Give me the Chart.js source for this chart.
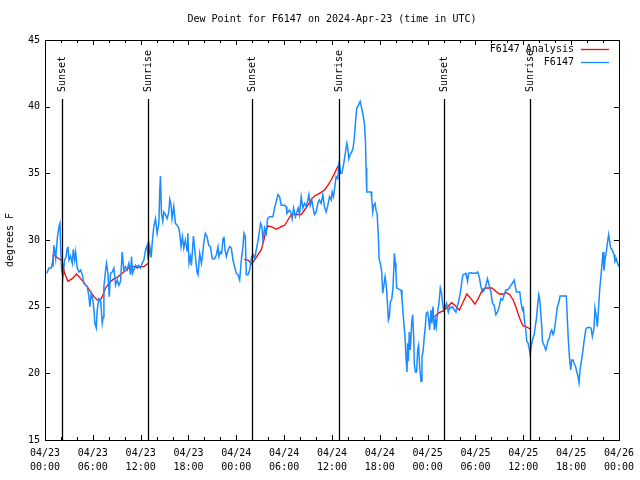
<!DOCTYPE html>
<html><head><meta charset="utf-8">
<script src="https://cdn.jsdelivr.net/npm/chart.js@4/dist/chart.umd.min.js"></script>
<style>html,body{margin:0;padding:0;background:#fff}canvas{display:block}</style>
</head><body>
<canvas id="c" width="640" height="480"></canvas>
<script>
const FONT = '"DejaVu Sans Mono", "Liberation Mono", monospace';
const chartTitle = 'Dew Point for F6147 on 2024-Apr-23 (time in UTC)';
const yAxisTitle = 'degrees F';
const seriesLabels = ['F6147 Analysis', 'F6147'];

// hours since 04/23 00:00 UTC
const obsHours = [0.21,0.50,0.79,1.00,1.13,1.34,1.54,1.75,1.88,1.96,2.09,2.25,2.46,2.63,2.80,2.88,3.01,3.21,3.42,3.55,3.72,3.84,4.05,4.26,4.47,4.67,4.88,5.09,5.30,5.51,5.63,5.80,6.01,6.14,6.26,6.43,6.55,6.76,6.97,7.18,7.30,7.39,7.60,7.72,7.89,8.06,8.22,8.43,8.64,8.85,9.06,9.27,9.48,9.68,9.89,10.10,10.31,10.52,10.73,10.85,10.98,11.14,11.35,11.56,11.77,11.98,12.19,12.40,12.61,12.81,12.94,13.15,13.31,13.48,13.65,13.86,14.07,14.28,14.40,14.48,14.61,14.78,14.90,15.11,15.32,15.53,15.65,15.82,15.94,16.15,16.36,16.57,16.78,16.90,17.07,17.24,17.41,17.61,17.82,17.91,18.07,18.24,18.37,18.62,18.87,19.07,19.20,19.41,19.62,19.74,19.91,20.12,20.33,20.54,20.75,20.87,20.99,21.29,21.50,21.70,21.83,22.00,22.16,22.33,22.45,22.58,22.75,22.96,23.17,23.37,23.58,23.79,24.00,24.21,24.42,24.63,24.83,24.96,25.13,25.25,25.46,25.67,25.80,25.92,26.09,26.30,26.50,26.71,26.92,27.05,27.21,27.34,27.55,27.76,27.92,28.17,28.59,28.80,29.01,29.22,29.43,29.63,30.05,30.26,30.34,30.68,30.89,31.01,31.18,31.43,31.60,31.76,31.93,32.14,32.34,32.56,32.77,32.97,33.10,33.27,33.47,33.68,33.81,34.02,34.22,34.43,34.64,34.85,35.06,35.27,35.48,35.69,35.90,36.02,36.19,36.36,36.52,36.73,36.90,37.07,37.23,37.44,37.57,37.73,37.86,37.98,38.11,38.28,38.48,38.65,38.82,38.94,39.11,39.32,39.53,39.65,39.86,40.07,40.20,40.28,40.36,40.70,40.90,40.99,41.11,41.24,41.41,41.53,41.66,41.82,41.91,42.07,42.24,42.36,42.49,42.66,42.78,42.91,43.08,43.20,43.33,43.49,43.66,43.83,43.95,44.03,44.12,44.45,44.66,44.78,44.95,45.16,45.28,45.41,45.49,45.58,45.70,45.83,46.00,46.12,46.25,46.33,46.45,46.62,46.75,46.87,47.00,47.17,47.29,47.42,47.58,47.71,47.83,48.00,48.12,48.25,48.42,48.54,48.67,48.84,48.96,49.09,49.25,49.42,49.59,49.75,49.88,50.00,50.21,50.38,50.59,50.76,50.92,51.13,51.34,51.55,51.68,51.84,52.09,52.26,52.43,52.81,53.01,53.14,53.43,53.77,54.06,54.27,54.47,54.68,54.89,55.10,55.31,55.51,55.72,55.93,56.14,56.35,56.56,56.77,56.98,57.18,57.39,57.60,57.81,58.02,58.23,58.43,58.64,58.85,58.98,59.14,59.56,59.69,59.89,60.02,60.14,60.31,60.44,60.61,60.73,60.86,60.98,61.15,61.36,61.48,61.65,61.82,61.94,62.07,62.19,62.32,62.40,62.61,62.82,62.94,63.07,63.24,63.44,63.57,63.74,63.86,64.07,64.28,64.49,64.61,65.40,65.53,65.65,65.82,65.95,66.07,66.24,66.37,66.57,66.70,66.82,66.99,67.12,67.24,67.41,67.62,67.83,67.95,68.24,68.49,68.66,68.87,68.99,69.16,69.29,69.41,69.58,69.79,70.00,70.12,70.25,70.41,70.58,70.71,70.83,70.96,71.17,71.38,71.50,71.66,71.83,72.00];
const obsValues = [27.5,27.9,27.9,28.5,29.6,28.6,30.1,31.0,31.25,29.5,27.75,27.25,28.5,28.7,29.4,29.5,28.5,28.8,28.25,29.3,28.5,29.1,27.9,27.6,27.75,27.4,26.75,26.6,26.5,25.75,25.0,26.0,25.5,24.75,23.75,23.4,24.75,25.6,25.5,23.75,24.2,26.5,27.75,28.25,27.5,25.75,27.5,27.6,27.9,26.6,27.0,26.6,26.9,29.1,27.75,28.0,27.75,28.25,27.4,28.75,27.5,27.75,28.1,28.0,28.1,27.9,28.25,28.5,29.25,29.6,28.5,29.5,28.7,30.0,31.0,31.6,30.5,31.25,33.75,34.8,32.0,31.4,32.1,31.9,31.6,32.1,33.05,32.6,31.6,32.5,31.25,31.1,30.9,30.5,29.5,30.25,29.4,30.0,29.2,30.5,28.25,28.75,28.1,30.3,28.75,27.6,27.4,29.0,28.25,28.75,29.75,30.5,30.25,29.6,29.5,29.0,28.6,28.6,28.9,29.5,28.75,29.1,29.0,30.1,30.25,29.25,28.75,29.25,29.5,29.4,28.5,28.0,27.5,27.4,27.0,28.5,29.5,30.5,30.25,27.4,27.4,27.75,28.25,28.75,28.9,28.6,29.25,29.9,30.75,31.25,31.0,30.0,30.9,30.5,31.6,31.75,31.75,32.4,32.9,33.4,33.25,32.6,32.6,32.5,32.0,32.25,32.0,31.6,32.4,31.75,32.1,32.4,31.9,33.25,32.4,32.75,32.5,33.0,33.4,32.6,33.0,32.25,31.9,32.1,32.75,33.0,32.75,33.4,32.5,32.1,32.6,33.25,33.0,33.6,33.25,34.0,34.75,34.6,35.9,35.0,35.0,35.6,36.1,36.75,37.25,36.9,36.1,36.4,36.6,36.9,37.75,38.75,39.9,40.1,40.4,40.1,39.5,38.75,37.4,35.4,33.6,33.6,33.6,33.1,32.1,32.6,32.75,32.2,32.0,30.25,28.6,28.25,27.6,26.0,26.5,27.25,26.75,25.75,24.0,24.25,25.4,25.5,26.5,29.0,28.25,27.5,26.4,26.3,26.25,25.6,24.25,22.75,21.25,20.1,22.25,20.9,23.1,21.75,23.75,24.4,22.75,20.75,20.1,20.1,21.75,22.1,20.5,19.4,21.25,21.6,22.75,23.5,24.5,24.6,24.1,23.25,24.75,23.75,25.0,23.25,24.0,23.5,24.6,25.25,26.4,26.0,25.25,24.75,25.0,25.25,24.6,25.0,24.9,25.0,24.75,24.6,25.0,25.25,26.0,26.75,27.4,27.5,26.9,27.5,27.55,27.5,27.5,27.6,27.25,26.5,26.1,26.25,26.6,27.1,26.6,26.1,25.25,25.1,24.4,24.6,25.0,25.6,25.5,25.9,26.25,26.25,26.4,26.6,26.75,27.0,26.6,26.1,26.1,25.4,24.75,24.9,24.0,23.25,22.4,22.25,21.9,21.4,22.0,22.5,22.9,23.4,24.1,25.25,25.9,25.5,24.5,23.5,22.4,22.1,21.75,22.0,22.4,22.6,23.1,23.25,22.9,23.1,24.0,25.0,25.4,25.8,25.8,24.0,22.5,21.0,20.25,21.0,21.0,20.75,20.5,20.1,19.9,19.3,20.25,20.75,21.4,22.4,23.25,23.4,23.45,23.4,22.75,23.4,24.9,24.25,23.5,24.6,26.25,27.6,29.1,27.7,28.5,29.1,29.9,30.4,29.9,29.4,29.25,28.9,28.4,28.6,28.25,28.0];

// analysis (null = gap between nightly segments)
const anaHours = [1.00,1.05,1.75,2.17,2.46,2.88,3.42,3.96,4.47,4.88,5.30,5.72,6.14,6.55,6.89,7.18,7.60,8.01,8.64,9.06,9.68,10.31,10.93,11.56,11.98,12.40,12.81,13.02,18.00,24.96,25.46,25.92,26.30,26.71,27.13,27.42,27.67,27.97,28.38,29.01,29.63,30.05,30.47,30.89,31.51,32.14,32.56,32.97,33.39,33.81,34.43,35.06,35.48,35.90,36.32,36.73,36.94,42.00,48.84,49.46,50.00,50.50,51.00,51.42,51.97,52.38,52.92,53.43,53.93,54.35,54.89,55.31,56.06,56.48,56.98,57.48,57.89,58.31,58.73,59.06,59.39,59.69,59.98,60.31,60.64,60.98];
const anaValues = [28.0,28.9,28.6,28.4,27.5,26.9,27.1,27.45,27.1,26.8,26.5,26.1,25.75,25.5,25.45,25.75,26.4,26.75,27.1,27.2,27.5,27.8,28.05,27.9,28.0,28.0,28.2,28.25,null,28.55,28.5,28.2,28.5,28.9,29.25,29.9,30.6,31.05,31.0,30.8,31.0,31.1,31.5,31.9,31.9,31.9,32.25,32.6,33.05,33.3,33.5,33.75,34.1,34.5,35.0,35.5,35.7,null,24.25,24.55,24.7,25.0,25.3,25.1,24.75,25.25,25.95,25.6,25.2,25.6,26.3,26.4,26.4,26.2,25.95,25.95,26.05,25.9,25.5,25.0,24.4,23.9,23.55,23.5,23.4,23.3];

const eventHours = [2.09, 12.94, 25.92, 36.90, 50.00, 60.86];
const eventLabels = ['Sunset', 'Sunrise', 'Sunset', 'Sunrise', 'Sunset', 'Sunrise'];

const xTickHours = [0,6,12,18,24,30,36,42,48,54,60,66,72];
const xTickDates = ['04/23','04/23','04/23','04/23','04/24','04/24','04/24','04/24','04/25','04/25','04/25','04/25','04/26'];
const xTickTimes = ['00:00','06:00','12:00','18:00','00:00','06:00','12:00','18:00','00:00','06:00','12:00','18:00','00:00'];
const yTickValues = [15,20,25,30,35,40,45];

const RED = '#ff0000';
const BLUE = '#1a8cff';

const obsData = obsHours.map((h, i) => ({x: h, y: obsValues[i]}));
const anaData = anaHours.map((h, i) => ({x: h, y: anaValues[i]}));

const decor = {
  id: 'decor',
  afterDraw(chart) {
    const {ctx, chartArea: a, scales: {x, y}} = chart;
    ctx.save();
    ctx.strokeStyle = '#000';
    ctx.fillStyle = '#000';
    ctx.lineWidth = 1;
    // sunrise/sunset lines
    eventHours.forEach((h, i) => {
      const px = Math.round(x.getPixelForValue(h)) + 0.5;
      ctx.lineWidth = 1.3;
      ctx.beginPath();
      ctx.moveTo(px, a.top + 59);
      ctx.lineTo(px, a.bottom);
      ctx.stroke();
      ctx.save();
      ctx.translate(px, a.top + 52);
      ctx.rotate(-Math.PI / 2);
      ctx.font = '10px ' + FONT;
      ctx.textAlign = 'left';
      ctx.textBaseline = 'middle';
      ctx.fillText(eventLabels[i], 0, 0);
      ctx.restore();
    });
    ctx.lineWidth = 1;
    // border
    ctx.strokeRect(Math.round(a.left) + 0.5, Math.round(a.top) + 0.5, Math.round(a.width), Math.round(a.height));
    // ticks
    ctx.beginPath();
    yTickValues.forEach(v => {
      const py = Math.round(y.getPixelForValue(v)) + 0.5;
      ctx.moveTo(a.left, py); ctx.lineTo(a.left + 5, py);
      ctx.moveTo(a.right, py); ctx.lineTo(a.right - 5, py);
    });
    for (let h = 0; h <= 72; h += 2) {
      const len = (h % 6 === 0) ? 5 : 3;
      const px = Math.round(x.getPixelForValue(h)) + 0.5;
      ctx.moveTo(px, a.bottom); ctx.lineTo(px, a.bottom - len);
      ctx.moveTo(px, a.top); ctx.lineTo(px, a.top + len);
    }
    ctx.stroke();
    // title
    ctx.font = '10px ' + FONT;
    ctx.textAlign = 'center';
    ctx.textBaseline = 'middle';
    ctx.fillText(chartTitle, (a.left + a.right) / 2, 19);
    // y axis title
    ctx.save();
    ctx.translate(10, (a.top + a.bottom) / 2);
    ctx.rotate(-Math.PI / 2);
    ctx.fillText(yAxisTitle, 0, 0);
    ctx.restore();
    // legend
    const colors = [RED, BLUE];
    seriesLabels.forEach((lab, i) => {
      const ry = 49 + i * 13;
      ctx.fillStyle = '#000';
      ctx.textAlign = 'right';
      ctx.fillText(lab, a.right - 45, ry);
      ctx.strokeStyle = colors[i];
      ctx.lineWidth = 1.3;
      ctx.beginPath();
      ctx.moveTo(a.right - 38, ry + 0.5);
      ctx.lineTo(a.right - 10, ry + 0.5);
      ctx.stroke();
    });
    ctx.restore();
  }
};

new Chart(document.getElementById('c'), {
  type: 'line',
  data: {
    datasets: [
      {label: seriesLabels[0], data: anaData, borderColor: RED, borderWidth: 1.3, pointRadius: 0, tension: 0, spanGaps: false, order: 1},
      {label: seriesLabels[1], data: obsData, borderColor: BLUE, borderWidth: 1.5, pointRadius: 0, tension: 0, order: 0}
    ]
  },
  options: {
    responsive: false,
    devicePixelRatio: 1,
    animation: false,
    layout: {padding: {top: 40, right: 20, left: 0, bottom: 0}},
    plugins: {legend: {display: false}, tooltip: {enabled: false}, title: {display: false}},
    scales: {
      x: {
        type: 'linear', min: 0, max: 72,
        grid: {display: false, drawTicks: false},
        border: {display: false},
        afterBuildTicks: s => { s.ticks = xTickHours.map(v => ({value: v})); },
        afterFit: s => { s.height = 40; },
        ticks: {
          autoSkip: false, maxRotation: 0, minRotation: 0, padding: 6, color: '#000',
          font: {family: FONT, size: 10, lineHeight: 1.4},
          callback: (v, i) => [xTickDates[i], xTickTimes[i]]
        }
      },
      y: {
        min: 15, max: 45,
        grid: {display: false, drawTicks: false},
        border: {display: false},
        afterBuildTicks: s => { s.ticks = yTickValues.map(v => ({value: v})); },
        afterFit: s => { s.width = 45; },
        ticks: {padding: 5, color: '#000', font: {family: FONT, size: 10}}
      }
    }
  },
  plugins: [decor]
});
</script>
</body></html>
